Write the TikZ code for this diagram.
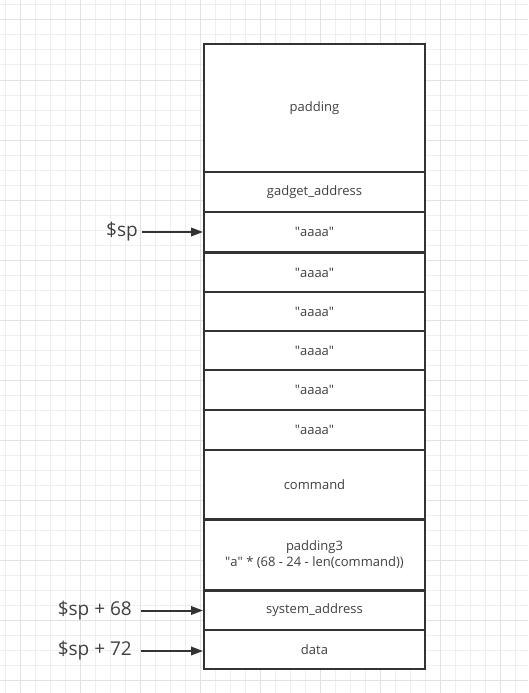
\documentclass[tikz,border=0pt]{standalone}
\usepackage{fontspec}
\setmainfont{Open Sans}
\usetikzlibrary{arrows.meta}

\definecolor{inkgray}{HTML}{333333}
\definecolor{textgray}{HTML}{404040}
\definecolor{gridminor}{HTML}{EFEFEF}
\definecolor{gridmajor}{HTML}{E2E2E2}

\newcommand{\qq}[1]{\textquotedbl#1\textquotedbl}

\begin{document}
\begin{tikzpicture}[
    x=1pt, y=-1pt,
    cell/.style={rectangle, draw=inkgray, line width=2pt, fill=white,
                 minimum width=221pt, inner sep=0pt, align=center,
                 text=textgray, font=\fontsize{13}{16}\selectfont},
    pointer/.style={text=textgray, inner sep=1pt, font=\fontsize{19}{22}\selectfont},
    ptr/.style={draw=inkgray, line width=2pt, -{Triangle[length=12pt,width=8.5pt]}}
]
\useasboundingbox (0,0) rectangle (528,693);

% Background grid
\fill[white] (0,0) rectangle (528,693);
\foreach \g in {5,20,...,693} {
  \draw[gridminor, line width=1pt] (\g,0) -- (\g,693);
  \draw[gridminor, line width=1pt] (0,\g) -- (528,\g);
}
\foreach \g in {20,80,...,693} {
  \draw[gridmajor, line width=1pt] (\g,0) -- (\g,693);
  \draw[gridmajor, line width=1pt] (0,\g) -- (528,\g);
}

% Stack cells
\node[cell, minimum height=128pt] (padding) at (314.5,108) {padding};
\node[cell, minimum height=40pt] (gadget) at (314.5,192) {gadget\_address};
\node[cell, minimum height=40pt] (a1) at (314.5,232) {\qq{aaaa}};
\node[cell, minimum height=39pt] (a2) at (314.5,272.5) {\qq{aaaa}};
\node[cell, minimum height=39pt] (a3) at (314.5,311.5) {\qq{aaaa}};
\node[cell, minimum height=39pt] (a4) at (314.5,350.5) {\qq{aaaa}};
\node[cell, minimum height=40pt] (a5) at (314.5,390) {\qq{aaaa}};
\node[cell, minimum height=40pt] (a6) at (314.5,430) {\qq{aaaa}};
\node[cell, minimum height=69pt] (command) at (314.5,484.5) {command};
\node[cell, minimum height=70pt] (padding3) at (314.5,555) {padding3\\\qq{a} * (68 - 24 - len(command))};
\node[cell, minimum height=39pt] (system) at (314.5,610.5) {system\_address};
\node[cell, minimum height=39pt] (data) at (314.5,649.5) {data};

% Stack pointer labels
\node[pointer, anchor=east] (sp) at (139,232) {\$sp};
\node[pointer, anchor=east] (sp68) at (133,610.5) {\$sp + 68};
\node[pointer, anchor=east] (sp72) at (133,651) {\$sp + 72};

% Pointer arrows
\draw[ptr] (sp.east) ++(3,0) -- (sp.east -| a1.west);
\draw[ptr] (sp68.east) ++(8,0) -- (sp68.east -| system.west);
\draw[ptr] (sp72.east) ++(8,0) -- (sp72.east -| data.west);

\end{tikzpicture}
\end{document}
